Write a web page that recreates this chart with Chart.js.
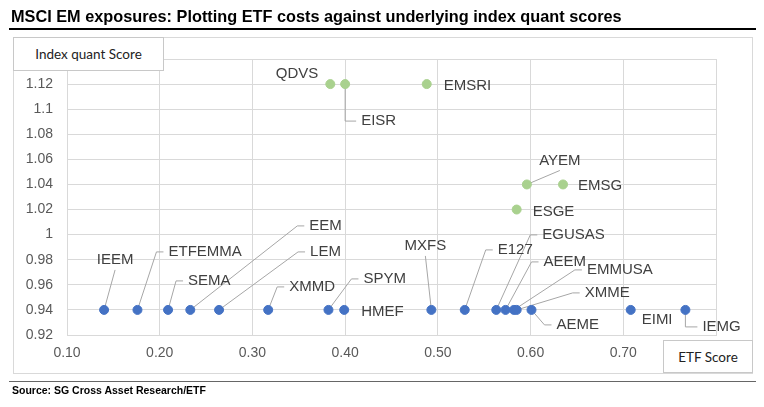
<!DOCTYPE html>
<html>
<head>
<meta charset="utf-8">
<script src="https://cdn.jsdelivr.net/npm/chart.js@4.4.1/dist/chart.umd.min.js"></script>
<style>
  body { margin: 0; background: #fff; }
  #page { position: relative; width: 764px; height: 407px; overflow: hidden; font-family: "Liberation Sans", Arial, sans-serif; }
  #frame { position: absolute; left: 13px; top: 37px; width: 738px; height: 335px; border: 1px solid #d9d9d9; }
  #etfChart { position: absolute; left: 0; top: 0; }
  .title { position: absolute; left: 11px; top: 7px; font-size: 16.3px; line-height: 18px; font-weight: bold; color: #000; white-space: nowrap; }
  .rule { position: absolute; left: 9px; width: 747px; }
  .axisBox { position: absolute; background: #fff; border: 1px solid #c8c8c8; font-family: Lato, "Open Sans", sans-serif; font-size: 13.5px; color: #222; display: flex; align-items: center; justify-content: center; }
  .source { position: absolute; left: 12px; top: 384px; font-size: 10.5px; line-height: 12px; font-weight: bold; color: #000; white-space: nowrap; }
</style>
</head>
<body>
<div id="page">
  <div id="frame"></div>
  <canvas id="etfChart" width="764" height="407"></canvas>
  <div class="title">MSCI EM exposures: Plotting ETF costs against underlying index quant scores</div>
  <div class="rule" style="top:28px;height:2px;background:#000;"></div>
  <div class="axisBox" style="left:13px;top:37px;width:149px;height:32px;">Index quant Score</div>
  <div class="axisBox" style="left:663px;top:340px;width:88px;height:31px;">ETF Score</div>
  <div class="rule" style="top:381px;height:1px;background:#666;"></div>
  <div class="source">Source: SG Cross Asset Research/ETF</div>
</div>
<script>
// Standard MSCI EM trackers (blue)
const blueNames = ['IEEM', 'ETFEMMA', 'SEMA', 'EEM', 'LEM', 'XMMD', 'SPYM', 'HMEF', 'MXFS', 'E127',
                   'EGUSAS', 'AEEM', 'EMMUSA', 'XMME', 'AEME', 'EIMI', 'IEMG'];
const blueEtfScore = [0.14, 0.176, 0.209, 0.233, 0.264, 0.317, 0.382, 0.399, 0.493, 0.529,
                      0.563, 0.573, 0.582, 0.585, 0.601, 0.708, 0.767];
const blueIndexScore = [0.94, 0.94, 0.94, 0.94, 0.94, 0.94, 0.94, 0.94, 0.94, 0.94,
                        0.94, 0.94, 0.94, 0.94, 0.94, 0.94, 0.94];

// ESG / SRI trackers (green)
const greenNames = ['QDVS', 'EISR', 'EMSRI', 'AYEM', 'EMSG', 'ESGE'];
const greenEtfScore = [0.384, 0.400, 0.488, 0.596, 0.635, 0.585];
const greenIndexScore = [1.12, 1.12, 1.12, 1.04, 1.04, 1.02];

// axis ticks
const xTicks = [0.10, 0.20, 0.30, 0.40, 0.50, 0.60, 0.70, 0.80];
const yTicks = [0.92, 0.94, 0.96, 0.98, 1.00, 1.02, 1.04, 1.06, 1.08, 1.10, 1.12, 1.14];

// where each data label sits relative to its point (pixels), Excel style
const labelPlacement = {
    IEEM:    { dx: 11,  dy: -50, align: 'center', leader: 'up' },
    ETFEMMA: { dx: 31,  dy: -58, align: 'left', leader: 'side' },
    SEMA:    { dx: 20,  dy: -29, align: 'left', leader: 'side' },
    EEM:     { dx: 119, dy: -84, align: 'left', leader: 'side' },
    LEM:     { dx: 91,  dy: -58, align: 'left', leader: 'side' },
    XMMD:    { dx: 21,  dy: -23, align: 'left', leader: 'side' },
    SPYM:    { dx: 35,  dy: -31, align: 'left', leader: 'side' },
    HMEF:    { dx: 17,  dy: 2,   align: 'left', leader: 'none' },
    MXFS:    { dx: -6,  dy: -64, align: 'center', leader: 'up' },
    E127:    { dx: 33,  dy: -60, align: 'left', leader: 'side' },
    EGUSAS:  { dx: 46,  dy: -75, align: 'left', leader: 'side' },
    AEEM:    { dx: 38,  dy: -48, align: 'left', leader: 'side' },
    EMMUSA:  { dx: 73,  dy: -40, align: 'left', leader: 'side' },
    XMME:    { dx: 68,  dy: -17, align: 'left', leader: 'side' },
    AEME:    { dx: 25,  dy: 15,  align: 'left', leader: 'side' },
    EIMI:    { dx: 11,  dy: 10,  align: 'left', leader: 'none' },
    IEMG:    { dx: 17,  dy: 17,  align: 'left', leader: 'elbow' },
    QDVS:    { dx: -12, dy: -10, align: 'right', leader: 'none' },
    EISR:    { dx: 16,  dy: 37,  align: 'left', leader: 'elbow' },
    EMSRI:   { dx: 17,  dy: 2,   align: 'left', leader: 'none' },
    AYEM:    { dx: 33,  dy: -24, align: 'center', leader: 'up' },
    EMSG:    { dx: 15,  dy: 1,   align: 'left', leader: 'none' },
    ESGE:    { dx: 16,  dy: 2,   align: 'left', leader: 'none' }
};

function toPoints(xs, ys) {
    return xs.map((x, i) => ({ x: x, y: ys[i] }));
}

function eachLabel(chart, cb) {
    const names = [blueNames, greenNames];
    chart.data.datasets.forEach((ds, di) => {
        const meta = chart.getDatasetMeta(di);
        meta.data.forEach((pt, i) => {
            const name = names[di][i];
            const p = labelPlacement[name];
            if (p) cb(name, p, pt.x, pt.y);
        });
    });
}

const labelFont = '15px "Liberation Sans", Arial, sans-serif';

// leader lines under the dots, text on top
const dataLabels = {
    id: 'dataLabels',
    beforeDatasetsDraw(chart) {
        const ctx = chart.ctx;
        ctx.save();
        ctx.font = labelFont;
        ctx.strokeStyle = '#a6a6a6';
        ctx.lineWidth = 1;
        eachLabel(chart, (name, p, px, py) => {
            if (p.leader === 'none') return;
            const w = ctx.measureText(name).width;
            let left = px + p.dx;
            if (p.align === 'center') left -= w / 2;
            if (p.align === 'right') left -= w;
            const cy = py + p.dy;
            ctx.beginPath();
            ctx.moveTo(px, py);
            if (p.leader === 'up') {
                ctx.lineTo(left + w / 2, cy + 10);
            } else if (p.leader === 'elbow') {
                ctx.lineTo(px, cy);
                ctx.lineTo(left - 5, cy);
            } else {
                ctx.lineTo(left - 12, cy);
                ctx.lineTo(left - 5, cy);
            }
            ctx.stroke();
        });
        ctx.restore();
    },
    afterDatasetsDraw(chart) {
        const ctx = chart.ctx;
        ctx.save();
        ctx.font = labelFont;
        ctx.fillStyle = '#404040';
        ctx.textBaseline = 'middle';
        eachLabel(chart, (name, p, px, py) => {
            ctx.textAlign = p.align;
            ctx.fillText(name, px + p.dx, py + p.dy);
        });
        ctx.restore();
    }
};

const ctx = document.getElementById('etfChart').getContext('2d');
new Chart(ctx, {
    type: 'scatter',
    data: {
        datasets: [{
            label: 'MSCI EM',
            data: toPoints(blueEtfScore, blueIndexScore),
            backgroundColor: '#4472c4',
            borderColor: '#4472c4',
            pointRadius: 4.5,
            pointHoverRadius: 4.5
        }, {
            label: 'MSCI EM ESG',
            data: toPoints(greenEtfScore, greenIndexScore),
            backgroundColor: '#a9d18e',
            borderColor: '#a9d18e',
            pointRadius: 4.5,
            pointHoverRadius: 4.5
        }]
    },
    options: {
        responsive: false,
        animation: false,
        layout: { padding: { left: 13, top: 59, right: 48, bottom: 42 } },
        plugins: {
            legend: { display: false },
            tooltip: { enabled: false }
        },
        scales: {
            x: {
                type: 'linear',
                min: xTicks[0],
                max: xTicks[xTicks.length - 1],
                afterBuildTicks: scale => { scale.ticks = xTicks.map(v => ({ value: v })); },
                afterFit: scale => { scale.height = 30; },
                grid: { color: '#d9d9d9', drawTicks: false },
                border: { color: '#d9d9d9' },
                ticks: {
                    padding: 10,
                    color: '#595959',
                    font: { family: '"Liberation Sans", Arial, sans-serif', size: 14 },
                    callback: v => (Math.abs(v - 0.8) < 1e-6 ? '' : v.toFixed(2))
                }
            },
            y: {
                type: 'linear',
                min: yTicks[0],
                max: yTicks[yTicks.length - 1],
                afterBuildTicks: scale => { scale.ticks = yTicks.map(v => ({ value: v })); },
                afterFit: scale => { scale.width = 54; },
                grid: { color: '#d9d9d9', drawTicks: false },
                border: { color: '#d9d9d9' },
                ticks: {
                    padding: 14,
                    color: '#595959',
                    font: { family: '"Liberation Sans", Arial, sans-serif', size: 14 },
                    callback: v => (Math.abs(v - 1.14) < 1e-6 ? '' : String(parseFloat(v.toFixed(2))))
                }
            }
        }
    },
    plugins: [dataLabels]
});
</script>
</body>
</html>
